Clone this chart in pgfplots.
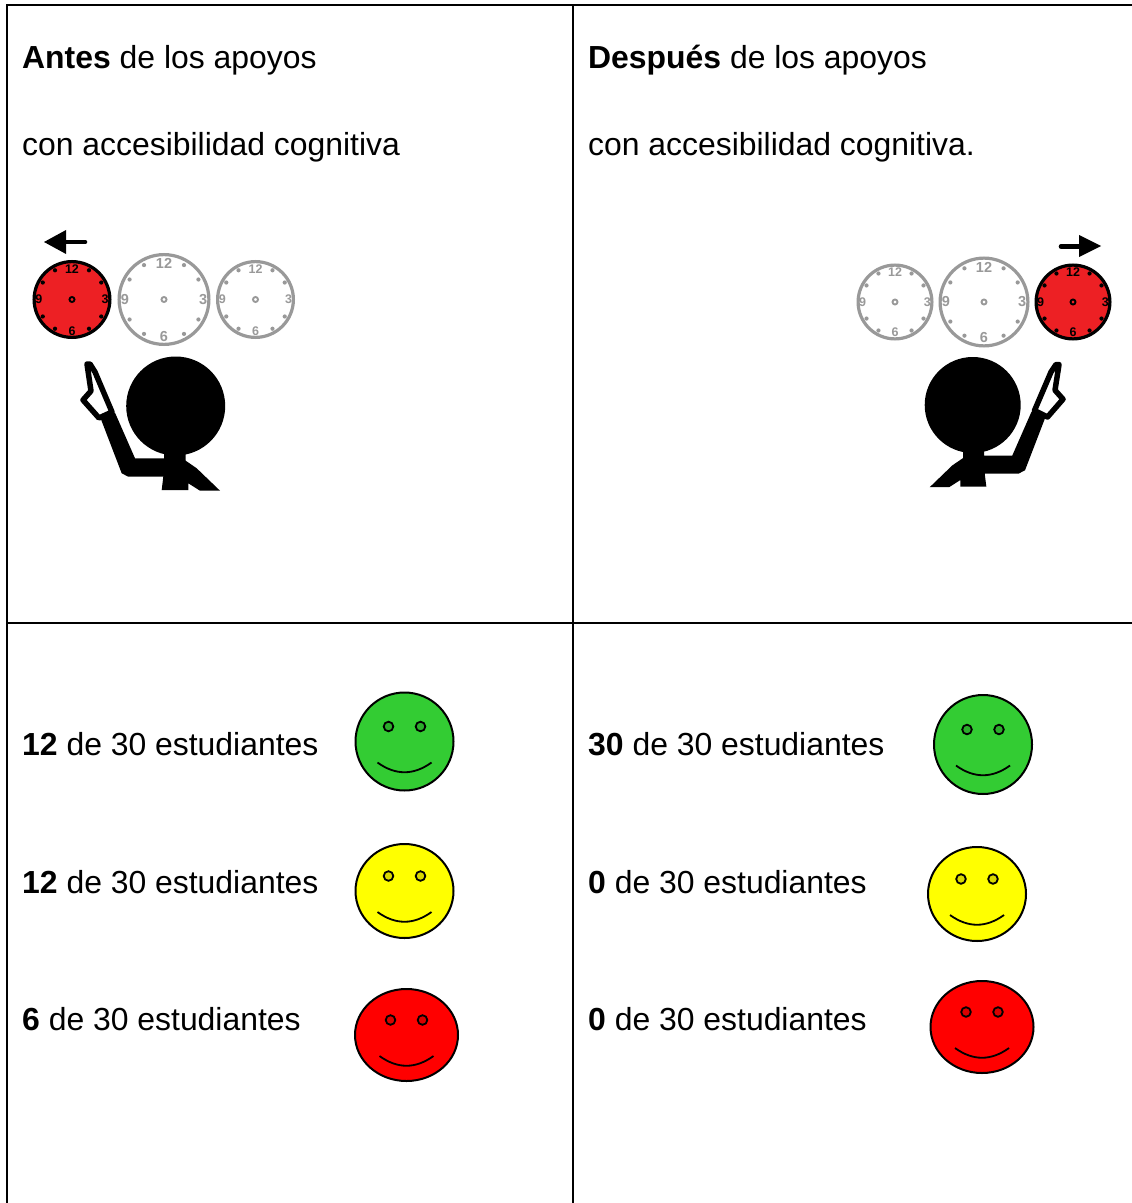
\documentclass[border=0pt]{standalone}
\usepackage{fontspec}
\setmainfont{Liberation Sans}
\usepackage{pgfplots}
\pgfplotsset{compat=1.18}
\definecolor{clockred}{HTML}{ED2024}
\definecolor{clockgray}{HTML}{999999}
\definecolor{facegreen}{HTML}{33CC33}
\definecolor{faceyellow}{HTML}{FFFF00}
\definecolor{facered}{HTML}{FF0000}
\newcommand{\txt}[3]{\node[anchor=base west,inner sep=0pt,font=\fontsize{31.9bp}{36bp}\selectfont] at (axis cs:#1,{#2+1}) {#3};}
\newcommand{\clockdot}[5]{\fill[#5] (axis cs:{#1+(#3)},{#2+(#4)}) circle[radius=2.1];}
% cx cy r fill stroke numfont
\newcommand{\clock}[6]{%
  \draw[fill=#4,draw=#5,line width=3.2bp] (axis cs:#1,#2) circle[radius=#3-1.6];
  \draw[draw=#5,line width=1.9bp] (axis cs:#1,#2) circle[radius=2.5];
  \clockdot{#1}{#2}{0.43*#3}{-0.74*#3}{#5}
  \clockdot{#1}{#2}{0.74*#3}{-0.43*#3}{#5}
  \clockdot{#1}{#2}{0.74*#3}{0.43*#3}{#5}
  \clockdot{#1}{#2}{0.43*#3}{0.74*#3}{#5}
  \clockdot{#1}{#2}{-0.43*#3}{0.74*#3}{#5}
  \clockdot{#1}{#2}{-0.74*#3}{0.43*#3}{#5}
  \clockdot{#1}{#2}{-0.74*#3}{-0.43*#3}{#5}
  \clockdot{#1}{#2}{-0.43*#3}{-0.74*#3}{#5}
  \node[text=#5,inner sep=0pt,font=#6] at (axis cs:#1,{#2-0.77*#3}) {12};
  \node[text=#5,inner sep=0pt,font=#6] at (axis cs:#1,{#2+0.79*#3}) {6};
  \node[text=#5,inner sep=0pt,font=#6] at (axis cs:{#1+0.84*#3},#2) {3};
  \node[text=#5,inner sep=0pt,font=#6] at (axis cs:{#1-0.84*#3},#2) {9};
}
% cx cy rx ry colour
\newcommand{\smiley}[5]{%
  \draw[fill=#5,draw=black,line width=2bp] (axis cs:#1,#2) ellipse[x radius=#3-1,y radius=#4-1];
  \draw[fill=#5!85!black,draw=black,line width=1.8bp] (axis cs:{#1-16},{#2-15}) circle[radius=4.8];
  \draw[fill=#5!85!black,draw=black,line width=1.8bp] (axis cs:{#1+16},{#2-15}) circle[radius=4.8];
  \draw[draw=black,line width=1.8bp] (axis cs:{#1-27},{#2+21}) .. controls (axis cs:{#1-9},{#2+34}) and (axis cs:{#1+9},{#2+34}) .. (axis cs:{#1+27},{#2+21});
}
\begin{document}
\begin{tikzpicture}
\path[use as bounding box] (0,0) rectangle (1132bp,1203bp);
\begin{axis}[
  scale only axis,width=1132bp,height=1203bp,
  xmin=0,xmax=1132,ymin=0,ymax=1203,y dir=reverse,
  hide axis,clip=true,
  anchor=south west,at={(0,0)}]
% table rules
\addplot[black,line width=2bp,no marks] coordinates {(7,1203) (7,5) (1132,5)};
\addplot[black,line width=2bp,no marks] coordinates {(573,5) (573,1203)};
\addplot[black,line width=2bp,no marks] coordinates {(7,622.5) (1132,622.5)};
% text
\txt{22}{68}{\textbf{Antes} de los apoyos}
\txt{22}{155}{con accesibilidad cognitiva}
\txt{588}{68}{\textbf{Después} de los apoyos}
\txt{588}{155}{con accesibilidad cognitiva.}
\txt{22}{754}{\textbf{12} de 30 estudiantes}
\txt{22}{892}{\textbf{12} de 30 estudiantes}
\txt{22}{1029}{\textbf{6} de 30 estudiantes}
\txt{588}{754}{\textbf{30} de 30 estudiantes}
\txt{588}{892}{\textbf{0} de 30 estudiantes}
\txt{588}{1029}{\textbf{0} de 30 estudiantes}
% clocks left
\clock{72}{299.5}{39.5}{clockred}{black}{\fontsize{12.5bp}{13bp}\selectfont\bfseries}
\clock{164}{299.5}{46.5}{white}{clockgray}{\fontsize{14.5bp}{15bp}\selectfont\bfseries}
\clock{255.5}{299.5}{39.5}{white}{clockgray}{\fontsize{12.5bp}{13bp}\selectfont\bfseries}
% clocks right
\clock{895}{302}{38.5}{white}{clockgray}{\fontsize{12.5bp}{13bp}\selectfont\bfseries}
\clock{984}{302}{45.5}{white}{clockgray}{\fontsize{14.5bp}{15bp}\selectfont\bfseries}
\clock{1073}{302}{38.5}{clockred}{black}{\fontsize{12.5bp}{13bp}\selectfont\bfseries}
% arrows
\addplot[black,line width=4.6bp,line cap=round,no marks] coordinates {(85,242) (62,242)};
\addplot[fill=black,draw=none,no marks] coordinates {(44,242) (66,230) (66,254)} --cycle;
\addplot[black,line width=4.6bp,line cap=round,no marks] coordinates {(1061,246.5) (1082,246.5)};
\addplot[fill=black,draw=none,no marks] coordinates {(1101,246) (1079,235) (1079,257)} --cycle;
% left figure
\fill[black] (axis cs:175.7,406) circle[radius=49.5];
\addplot[fill=white,draw=black,line width=5.5bp,line join=round,no marks] coordinates {(112,412) (95,372) (90,364) (87,364) (91,391) (83,400) (99,418)} --cycle;
\addplot[fill=black,draw=none,no marks] coordinates {(100,416.7) (115,412.7) (135,458.3) (164,458.3) (164,450) (185.7,450) (185.7,460.7) (196.7,468.3) (220,490.7) (200,490.7) (188.3,483.3) (188.3,490) (161.7,490) (163.3,476.7) (128.3,476.7) (121.7,473.3)} --cycle;
% right figure
\fill[black] (axis cs:972.7,405) circle[radius=48];
\addplot[fill=white,draw=black,line width=5.5bp,line join=round,no marks] coordinates {(1034.5,410.5) (1051,372) (1056,364.5) (1059,364.5) (1055,390.2) (1063,399.2) (1047.5,417)} --cycle;
\addplot[fill=black,draw=none,no marks] coordinates {(1046.1,415.4) (1031.6,411.5) (1012.2,455.7) (984,455.7) (984,447.7) (963,447.7) (963,458.1) (952.3,465.4) (929.7,487.2) (949.1,487.2) (960.4,480) (960.4,486.5) (986.3,486.5) (984.7,473.6) (1018.6,473.6) (1025,470.3)} --cycle;
% faces
\smiley{404.5}{741.5}{50}{50}{facegreen}
\smiley{404.5}{891}{50}{48}{faceyellow}
\smiley{406.5}{1035}{52.5}{47}{facered}
\smiley{983}{744.5}{50}{50.5}{facegreen}
\smiley{977}{894}{50}{48}{faceyellow}
\smiley{982}{1027}{52.5}{47}{facered}
\end{axis}
\end{tikzpicture}
\end{document}
